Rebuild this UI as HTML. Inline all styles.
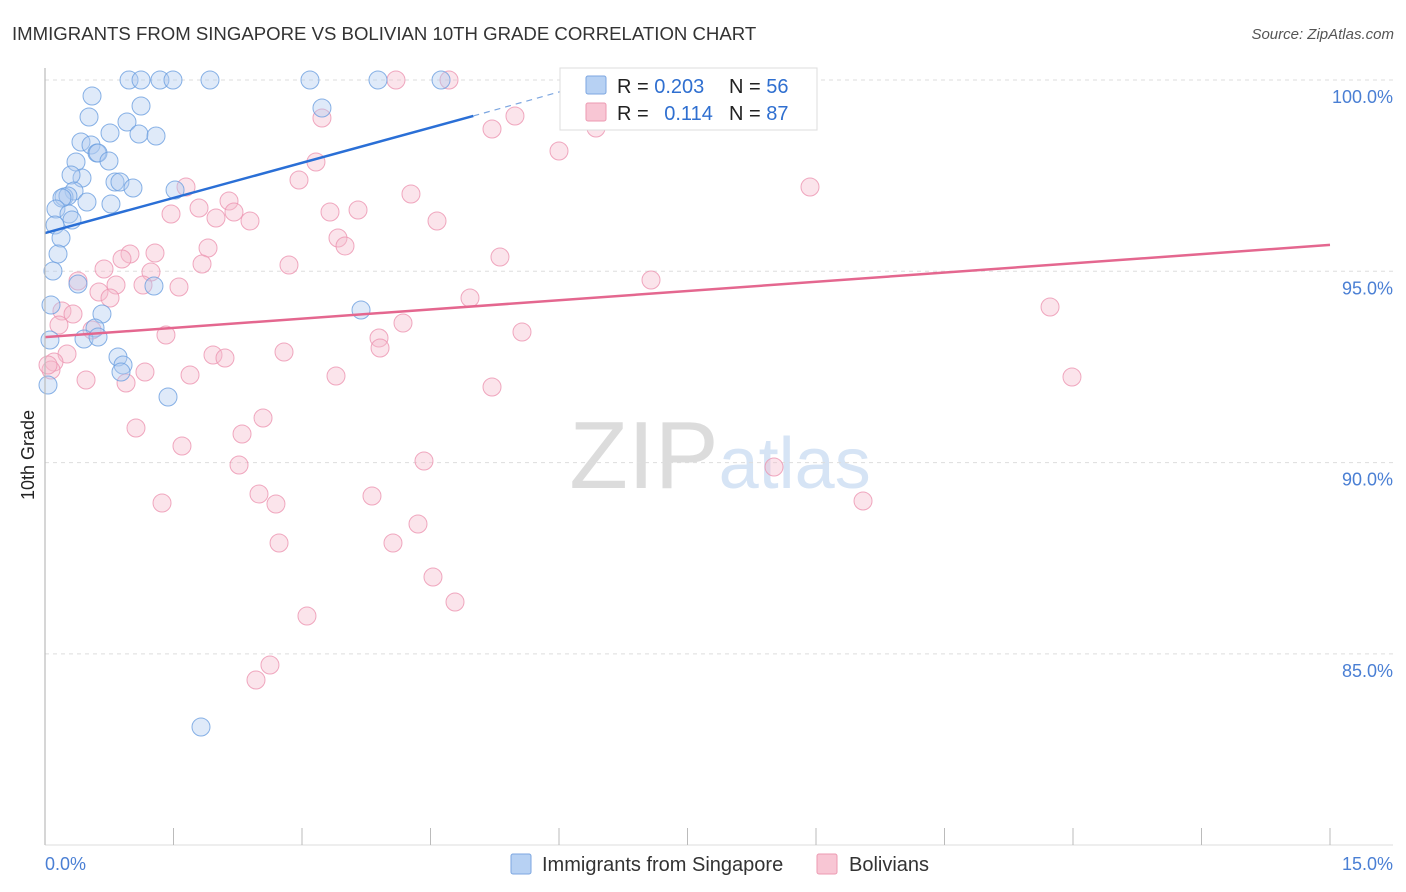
<!DOCTYPE html>
<html><head><meta charset="utf-8"><style>
body{margin:0;background:#fff;font-family:"Liberation Sans",sans-serif;}
#wrap{position:relative;width:1406px;height:892px;overflow:hidden;}
svg text{font-family:"Liberation Sans",sans-serif;}
</style></head><body>
<div id="wrap">
<svg id="chart" width="1406" height="892">
<text x="12" y="40" font-size="18.6" fill="#333">IMMIGRANTS FROM SINGAPORE VS BOLIVIAN 10TH GRADE CORRELATION CHART</text>
<text x="1394" y="39" font-size="15" fill="#555" text-anchor="end" font-style="italic">Source: ZipAtlas.com</text>
<text x="0" y="0" font-size="18" fill="#222" text-anchor="middle" transform="translate(34,455) rotate(-90)">10th Grade</text>
<text x="720" y="488" font-size="96" fill="#e2e2e2" text-anchor="middle" font-family="Liberation Serif"><tspan fill="#dcdcdc">ZIP</tspan><tspan fill="#d6e4f5" font-family="Liberation Sans" font-size="72">atlas</tspan></text>
<g id="grid"></g><g id="pinkpts"></g><g id="bluepts"></g><g id="lines"></g>
<line x1="45" y1="68" x2="45" y2="845" stroke="#bbb" stroke-width="1.2"/>
<line x1="45" y1="845" x2="1393" y2="845" stroke="#ddd" stroke-width="1"/>
<g id="xticks"></g>
<text x="45" y="870" font-size="18" fill="#4a7fd4">0.0%</text>
<text x="1393" y="870" font-size="18" fill="#4a7fd4" text-anchor="end">15.0%</text>
<g>
<rect x="560" y="68" width="257" height="62" fill="#fff" stroke="#ddd"/>
<rect x="586" y="76" width="20" height="18" fill="#b7d1f3" stroke="#7ca6e0" rx="2"/>
<rect x="586" y="103" width="20" height="18" fill="#f8c6d4" stroke="#ec9ab2" rx="2"/>
<text x="617" y="93" font-size="20" fill="#222">R = <tspan fill="#2f6fd0">0.203</tspan></text>
<text x="729" y="93" font-size="20" fill="#222">N = <tspan fill="#2f6fd0">56</tspan></text>
<text x="617" y="120" font-size="20" fill="#222">R = <tspan fill="#2f6fd0" dx="10">0.114</tspan></text>
<text x="729" y="120" font-size="20" fill="#222">N = <tspan fill="#2f6fd0">87</tspan></text>
</g>
<g>
<rect x="511" y="854" width="20" height="20" fill="#b7d1f3" stroke="#7ca6e0" rx="2"/>
<text x="542" y="871" font-size="20" fill="#333">Immigrants from Singapore</text>
<rect x="817" y="854" width="20" height="20" fill="#f8c6d4" stroke="#ec9ab2" rx="2"/>
<text x="849" y="871" font-size="20" fill="#333">Bolivians</text>
</g>
</svg>
</div>
<script>
const yTicks=[100,95,90,85];
const yTickLabels=["100.0%","95.0%","90.0%","85.0%"];
const xTicks=[0,1.5,3,4.5,6,7.5,9,10.5,12,13.5,15];
const bluePx=[[129,80],[141,80],[160,80],[173,80],[210,80],[310,80],[378,80],[441,80],[92,96],[141,106],[322,108],[89,117],[127,122],[110,133],[139,134],[156,136],[81,142],[91,145],[97,153],[98,153],[76,162],[109,161],[82,178],[71,175],[115,182],[120,182],[133,188],[74,191],[175,190],[64,197],[68,196],[62,198],[87,202],[111,204],[56,209],[69,214],[72,220],[55,225],[61,238],[58,254],[53,271],[78,284],[154,286],[51,305],[361,310],[102,314],[95,328],[84,339],[98,337],[50,340],[118,357],[123,365],[121,372],[168,397],[48,385],[201,727]];
const pinkPx=[[396,80],[449,80],[590,80],[739,80],[322,118],[492,129],[515,116],[596,128],[559,151],[316,162],[299,180],[186,187],[411,194],[810,187],[229,201],[199,208],[171,214],[234,212],[216,218],[250,221],[330,212],[358,210],[437,221],[338,238],[345,246],[208,248],[155,253],[130,254],[122,259],[202,264],[289,265],[500,257],[104,269],[151,272],[78,281],[143,285],[116,285],[179,287],[99,292],[110,298],[470,298],[651,280],[1050,307],[62,311],[73,314],[59,325],[403,323],[522,332],[166,335],[379,338],[92,330],[67,354],[213,355],[225,358],[284,352],[380,348],[54,362],[51,370],[145,372],[190,375],[336,376],[1072,377],[86,380],[126,383],[492,387],[263,418],[136,428],[242,434],[182,446],[424,461],[239,465],[774,467],[162,503],[259,494],[372,496],[276,504],[863,501],[418,524],[279,543],[393,543],[433,577],[455,602],[307,616],[270,665],[256,680],[48,365]];
const blueX=bluePx.map(p=>+((p[0]-45)/1285*15).toFixed(3));
const blueY=bluePx.map(p=>+(100-(p[1]-80)/191.3*5).toFixed(3));
const pinkX=pinkPx.map(p=>+((p[0]-45)/1285*15).toFixed(3));
const pinkY=pinkPx.map(p=>+(100-(p[1]-80)/191.3*5).toFixed(3));
const blueTrend=[[0,96.0],[5,99.06]];
const blueTrendExt=[[5,99.06],[6.5,100.0]];
const pinkTrend=[[0,93.28],[15,95.69]];

const NS="http://www.w3.org/2000/svg";
function sx(v){return 45+v/15*1285;}
function sy(v){return 80+(100-v)/5*191.3;}
function mk(tag,attrs,parent){const e=document.createElementNS(NS,tag);for(const k in attrs)e.setAttribute(k,attrs[k]);parent.appendChild(e);return e;}
const grid=document.getElementById('grid');
yTicks.forEach((t,i)=>{
  const l=mk('line',{x1:45,x2:1393,y1:sy(t),y2:sy(t),stroke:'#ddd','stroke-dasharray':'4,4'},grid);
  
  
  const tx=mk('text',{x:1393,y:sy(t)+23,'font-size':18,fill:'#4a7fd4','text-anchor':'end'},grid);
  tx.textContent=yTickLabels[i];
  
  
});
const xt=document.getElementById('xticks');
xTicks.forEach(t=>{
  const l=mk('line',{x1:sx(t),x2:sx(t),y1:828,y2:845,stroke:'#bbb'},xt);
  
  
});
function pts(xs,ys,g,fill,stroke,name){
  xs.forEach((x,i)=>{
    const c=mk('circle',{cx:sx(x),cy:sy(ys[i]),r:9,fill:fill,'fill-opacity':0.4,stroke:stroke,'stroke-width':1,'stroke-opacity':0.8},g);
    
    
  });
}
pts(pinkX,pinkY,document.getElementById('pinkpts'),'#f6bccd','#ec94b0','bolivian-point');
pts(blueX,blueY,document.getElementById('bluepts'),'#aecbf1','#6b9fe0','singapore-point');
const lg=document.getElementById('lines');
const b=mk('line',{x1:sx(blueTrend[0][0]),y1:sy(blueTrend[0][1]),x2:sx(blueTrend[1][0]),y2:sy(blueTrend[1][1]),stroke:'#2a6fd6','stroke-width':2.5},lg);


const bd=mk('line',{x1:sx(blueTrendExt[0][0]),y1:sy(blueTrendExt[0][1]),x2:sx(blueTrendExt[1][0]),y2:sy(blueTrendExt[1][1]),stroke:'#7ca6e0','stroke-width':1.2,'stroke-dasharray':'6,5'},lg);


const p=mk('line',{x1:sx(pinkTrend[0][0]),y1:sy(pinkTrend[0][1]),x2:sx(pinkTrend[1][0]),y2:sy(pinkTrend[1][1]),stroke:'#e4678f','stroke-width':2.5},lg);


</script>
</body></html>
